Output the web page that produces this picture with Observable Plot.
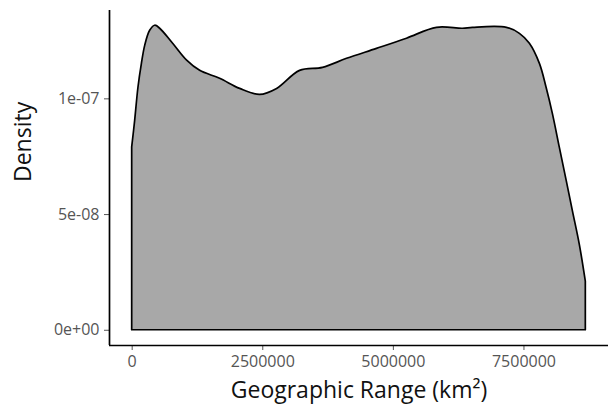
<!DOCTYPE html>
<html>
<head>
<meta charset="utf-8">
<script src="https://cdn.jsdelivr.net/npm/d3@7"></script>
<script src="https://cdn.jsdelivr.net/npm/@observablehq/plot@0.6"></script>
<style>
  html, body { margin: 0; padding: 0; background: #fff; }
</style>
</head>
<body>
<div id="chart"></div>
<script>
// Geographic range (km²) sample points along the density curve
const rangeKm2 = [0, 57000, 120000, 186000, 249000, 344000, 440000, 536000, 784000, 1052000, 1301000,
  1683000, 2066000, 2448000, 2774000, 3214000, 3653000, 4113000, 4686000, 5260000, 5834000,
  6331000, 6523000, 7173000, 7422000, 7613000, 7805000, 7933000, 8053000, 8187000, 8315000,
  8436000, 8570000, 8684000];
// Kernel density estimate at those points
const density = [7.9e-8, 9.05e-8, 1.048e-7, 1.151e-7, 1.229e-7, 1.294e-7, 1.316e-7, 1.303e-7, 1.238e-7, 1.165e-7, 1.121e-7,
  1.087e-7, 1.043e-7, 1.017e-7, 1.043e-7, 1.121e-7, 1.134e-7, 1.173e-7, 1.216e-7, 1.260e-7, 1.307e-7,
  1.303e-7, 1.307e-7, 1.307e-7, 1.281e-7, 1.238e-7, 1.151e-7, 1.048e-7, 9.35e-8, 7.88e-8, 6.49e-8,
  5.15e-8, 3.68e-8, 2.1e-8];

const xTicks = [0, 2500000, 5000000, 7500000];
const xTickLabels = ["0", "2500000", "5000000", "7500000"];
const yTicks = [0, 5e-8, 1e-7];
const yTickLabels = ["0e+00", "5e-08", "1e-07"];
const xTitle = "Geographic Range (km²)";
const yTitle = "Density";

const data = rangeKm2.map((x, i) => ({x, y: density[i]}));

// ggplot-style 5% expansion of the data range
const xMin = d3.min(rangeKm2), xMax = d3.max(rangeKm2);
const yMin = 0, yMax = d3.max(density);
const xPad = (xMax - xMin) * 0.05, yPad = (yMax - yMin) * 0.05;
const xDomain = [xMin - xPad, xMax + xPad];
const yDomain = [yMin - yPad, yMax + yPad];

const chart = Plot.plot({
  width: 613,
  height: 413,
  marginLeft: 109,
  marginRight: 5,
  marginTop: 10,
  marginBottom: 68,
  style: {fontFamily: "Open Sans", fontSize: "16px", color: "#555", background: "#fff"},
  x: {domain: xDomain, ticks: xTicks, tickFormat: d => xTickLabels[xTicks.indexOf(d)], tickSize: 5, tickPadding: 5, label: null},
  y: {domain: yDomain, ticks: yTicks, tickFormat: d => yTickLabels[yTicks.indexOf(d)], tickSize: 5, tickPadding: 5, label: null},
  marks: [
    Plot.areaY(data, {x: "x", y: "y", curve: "catmull-rom", fill: "#a8a8a8", stroke: "black", strokeWidth: 1.7}),
    Plot.ruleX([xDomain[0]], {stroke: "black", strokeWidth: 1.7}),
    Plot.ruleY([yDomain[0]], {stroke: "black", strokeWidth: 1.7}),
    Plot.text([xTitle], {frameAnchor: "bottom", dy: 52, text: d => d, fontSize: 23, fill: "#111"}),
    Plot.text([yTitle], {frameAnchor: "left", dx: -86, dy: 4, rotate: -90, text: d => d, fontSize: 23, fill: "#111"})
  ]
});
document.getElementById("chart").appendChild(chart);
</script>
</body>
</html>
